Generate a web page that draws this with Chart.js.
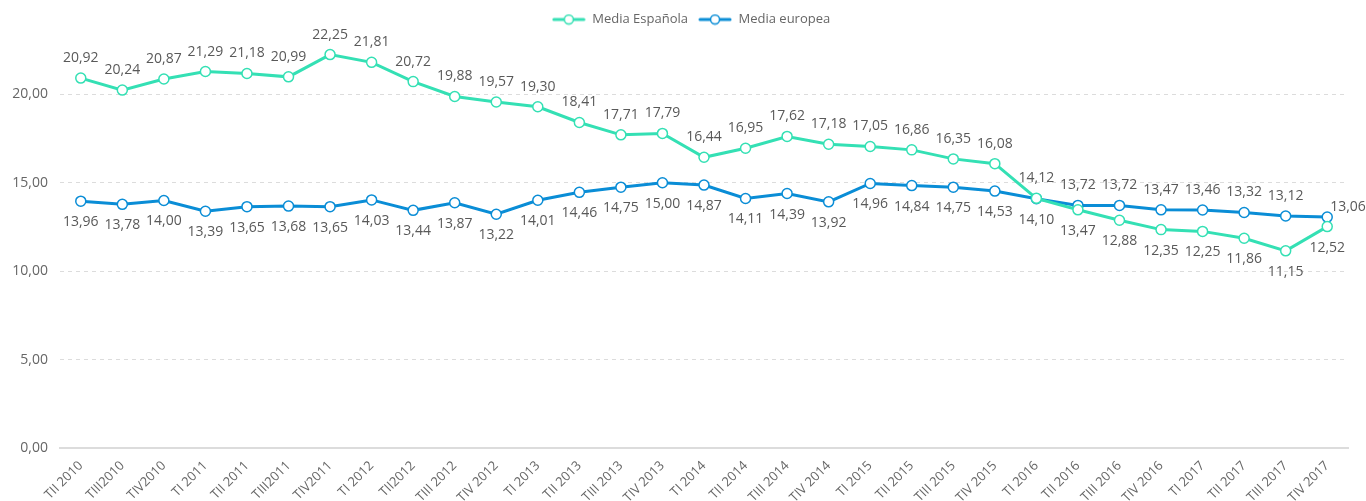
<!DOCTYPE html>
<html>
<head>
<meta charset="utf-8">
<script src="https://cdn.jsdelivr.net/npm/chart.js@4"></script>
<style>
  html, body { margin: 0; padding: 0; background: #fff; }
  #wrap { width: 1366px; height: 501px; }
</style>
</head>
<body>
<div id="wrap"><canvas id="my-chart"></canvas></div>
<script>
const labels = ['TII 2010', 'TIII2010', 'TIV2010', 'TI 2011', 'TII 2011', 'TIII2011', 'TIV2011',
  'TI 2012', 'TII2012', 'TIII 2012', 'TIV 2012', 'TI 2013', 'TII 2013', 'TIII 2013', 'TIV 2013',
  'TI 2014', 'TII 2014', 'TIII 2014', 'TIV 2014', 'TI 2015', 'TII 2015', 'TIII 2015', 'TIV 2015',
  'TI 2016', 'TII 2016', 'TIII 2016', 'TIV 2016', 'TI 2017', 'TII 2017', 'TIII 2017', 'TIV 2017'];

const mediaEspanola = [20.92, 20.24, 20.87, 21.29, 21.18, 20.99, 22.25, 21.81, 20.72, 19.88, 19.57,
  19.30, 18.41, 17.71, 17.79, 16.44, 16.95, 17.62, 17.18, 17.05, 16.86, 16.35, 16.08,
  14.12, 13.47, 12.88, 12.35, 12.25, 11.86, 11.15, 12.52];

const mediaEuropea = [13.96, 13.78, 14.00, 13.39, 13.65, 13.68, 13.65, 14.03, 13.44, 13.87, 13.22,
  14.01, 14.46, 14.75, 15.00, 14.87, 14.11, 14.39, 13.92, 14.96, 14.84, 14.75, 14.53,
  14.10, 13.72, 13.72, 13.47, 13.46, 13.32, 13.12, 13.06];

const yTicks = [0, 5, 10, 15, 20];

const teal = '#34e0b4';
const blue = '#0a8dd6';
const grey = '#666666';
const fontFamily = '"Open Sans", sans-serif';

const fmt = v => v.toFixed(2).replace('.', ',');

// little line + circle icon for the legend
function legendIcon(color) {
  const c = document.createElement('canvas');
  c.width = 34; c.height = 12;
  const g = c.getContext('2d');
  g.strokeStyle = color;
  g.lineWidth = 3;
  g.lineCap = 'round';
  g.beginPath(); g.moveTo(2, 6); g.lineTo(32, 6); g.stroke();
  g.fillStyle = '#fff';
  g.lineWidth = 1.5;
  g.beginPath(); g.arc(17, 6, 4.5, 0, Math.PI * 2); g.fill(); g.stroke();
  return c;
}

// nudge the legend a bit to the right, like the original
const legendShift = {
  id: 'legendShift',
  afterLayout(chart) {
    if (chart.legend) chart.legend.left += 34;
  }
};

// value labels: the higher series above its point, the lower one below
const valueLabels = {
  id: 'valueLabels',
  afterDatasetsDraw(chart) {
    const ctx = chart.ctx;
    const m0 = chart.getDatasetMeta(0).data;
    const m1 = chart.getDatasetMeta(1).data;
    const d0 = chart.data.datasets[0].data;
    const d1 = chart.data.datasets[1].data;
    const last = d0.length - 1;
    ctx.save();
    ctx.font = '14px ' + fontFamily;
    ctx.fillStyle = '#595959';
    ctx.textBaseline = 'middle';
    for (let i = 0; i < d0.length; i++) {
      const pairs = d0[i] >= d1[i]
        ? [[m0[i], d0[i], -20], [m1[i], d1[i], 21]]
        : [[m1[i], d1[i], -20], [m0[i], d0[i], 21]];
      pairs.forEach(([pt, v, dy]) => {
        if (i === last && dy < 0) {
          ctx.textAlign = 'left';
          ctx.fillText(fmt(v), pt.x + 3, pt.y - 10);
        } else {
          ctx.textAlign = 'center';
          ctx.fillText(fmt(v), pt.x, pt.y + dy);
        }
      });
    }
    ctx.restore();
  }
};

const ctx = document.getElementById('my-chart');
const myChart = new Chart(ctx, {
  type: 'line',
  data: {
    labels: labels,
    datasets: [
      {
        label: 'Media Española',
        data: mediaEspanola,
        borderColor: teal,
        backgroundColor: '#fff',
        pointBorderColor: teal,
        pointBackgroundColor: '#fff',
        borderWidth: 3,
        pointRadius: 5,
        pointBorderWidth: 1.5,
        pointStyle: 'circle',
        tension: 0,
        fill: false
      },
      {
        label: 'Media europea',
        data: mediaEuropea,
        borderColor: blue,
        backgroundColor: '#fff',
        pointBorderColor: blue,
        pointBackgroundColor: '#fff',
        borderWidth: 3,
        pointRadius: 5,
        pointBorderWidth: 1.5,
        pointStyle: 'circle',
        tension: 0,
        fill: false
      }
    ]
  },
  options: {
    responsive: true,
    maintainAspectRatio: false,
    animation: false,
    layout: { padding: { top: 3, right: 18, bottom: 0, left: 0 } },
    plugins: {
      legend: {
        position: 'top',
        align: 'center',
        labels: {
          usePointStyle: true,
          pointStyleWidth: 34,
          boxHeight: 12,
          color: grey,
          font: { family: fontFamily, size: 13 },
          padding: 10,
          generateLabels(chart) {
            return chart.data.datasets.map((ds, i) => ({
              text: ds.label,
              datasetIndex: i,
              pointStyle: legendIcon(ds.borderColor),
              fontColor: grey,
              lineWidth: 0,
              hidden: false
            }));
          }
        }
      },
      tooltip: { enabled: false }
    },
    scales: {
      x: {
        offset: true,
        grid: { display: false },
        border: { display: true, color: '#dcdcdc', width: 2 },
        ticks: {
          color: grey,
          font: { family: fontFamily, size: 13 },
          maxRotation: 45,
          minRotation: 45,
          autoSkip: false,
          padding: 2
        },
        afterFit(scale) { scale.height = 53; }
      },
      y: {
        min: 0,
        max: 23.3,
        grid: { color: '#dcdcdc', drawTicks: false },
        border: { display: false, dash: [4, 4] },
        ticks: {
          color: grey,
          font: { family: fontFamily, size: 14 },
          padding: 12,
          callback: v => fmt(v)
        },
        afterBuildTicks(scale) { scale.ticks = yTicks.map(v => ({ value: v })); },
        afterFit(scale) { scale.width = 60; }
      }
    }
  },
  plugins: [valueLabels, legendShift]
});
</script>
</body>
</html>
